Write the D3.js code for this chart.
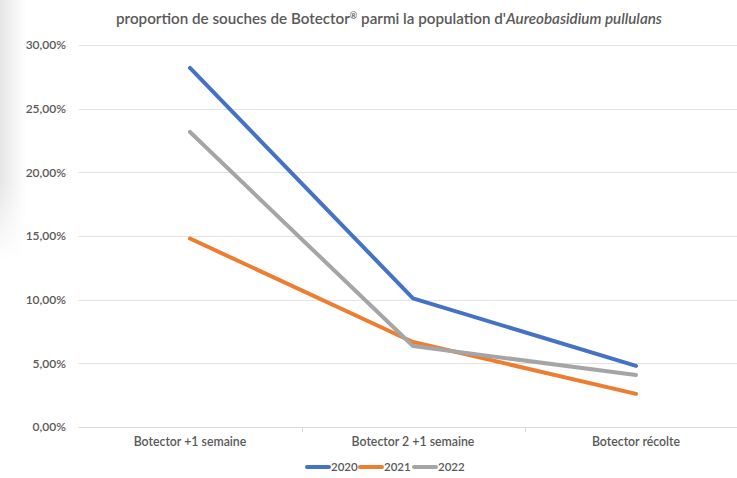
<!DOCTYPE html>
<html><head><meta charset="utf-8">
<script src="https://cdn.jsdelivr.net/npm/d3@7"></script>
<style>body{margin:0;background:#fff;}svg{display:block;font-family:Lato,"Open Sans",sans-serif;}</style>
</head><body><svg id="c" width="737" height="478"></svg>
<script>
const categories = ["Botector +1 semaine", "Botector 2 +1 semaine", "Botector récolte"];
const years = ["2020", "2021", "2022"];
const s2020 = [0.282, 0.101, 0.048];
const s2021 = [0.148, 0.0668, 0.026];
const s2022 = [0.2317, 0.0636, 0.0408];
const yTicks = [0, 0.05, 0.10, 0.15, 0.20, 0.25, 0.30];
const colors = ["#4472C4", "#ED7D31", "#A5A5A5"];
const series = [s2020, s2021, s2022];

(function(){
const svg = d3.select("#c");
const defs = svg.append("defs");
const g1 = defs.append("linearGradient").attr("id","sh").attr("x1","0").attr("x2","1");
g1.append("stop").attr("offset","0").attr("stop-color","#e6e6e6");
g1.append("stop").attr("offset","1").attr("stop-color","#ffffff");
const g2 = defs.append("linearGradient").attr("id","shv").attr("x1","0").attr("x2","0").attr("y1","0").attr("y2","1");
g2.append("stop").attr("offset","0.7").attr("stop-color","#fff").attr("stop-opacity",0);
g2.append("stop").attr("offset","1").attr("stop-color","#fff").attr("stop-opacity",1);
svg.append("rect").attr("x",0).attr("y",0).attr("width",26).attr("height",260).attr("fill","url(#sh)");
svg.append("rect").attr("x",0).attr("y",0).attr("width",26).attr("height",260).attr("fill","url(#shv)");

const mL = 78.5, mR = 747.5, mT = 45, mB = 427;
const x = d3.scaleBand().domain(categories).range([mL, mR]);
const y = d3.scaleLinear().domain([0, 0.30]).range([mB, mT]);
const fmt = v => d3.format(".2f")(v*100).replace(".", ",") + "%";

svg.append("g").selectAll("line").data(yTicks).join("line")
  .attr("x1", mL).attr("x2", 737)
  .attr("y1", d => Math.round(y(d)) + 0.5).attr("y2", d => Math.round(y(d)) + 0.5)
  .attr("stroke", d => d === 0 ? "#d9d9d9" : "#e3e3e3").attr("stroke-width", d => d===0?1.2:1);

svg.append("g").selectAll("line").data(categories.slice(1)).join("line")
  .attr("x1", d => Math.round(x(d))+0.5).attr("x2", d => Math.round(x(d))+0.5)
  .attr("y1", mB).attr("y2", mB+5).attr("stroke","#d9d9d9");

svg.append("g").selectAll("text").data(yTicks).join("text")
  .attr("x", 66).attr("y", d => y(d)).attr("dy","0.35em")
  .attr("text-anchor","end").attr("font-size",12).attr("font-weight",600)
  .attr("fill","#595959").text(fmt);

svg.append("g").selectAll("text").data(categories).join("text")
  .attr("x", d => x(d) + x.bandwidth()/2).attr("y", 446)
  .attr("text-anchor","middle").attr("font-size",12.3).attr("font-weight",600)
  .attr("fill","#595959").text(d => d);

const line = d3.line().x((d,i) => x(categories[i]) + x.bandwidth()/2).y(d => y(d));
svg.append("g").selectAll("path").data(series).join("path")
  .attr("d", line).attr("fill","none")
  .attr("stroke", (d,i) => colors[i]).attr("stroke-width", 4)
  .attr("stroke-linecap","round").attr("stroke-linejoin","round");

const t = svg.append("text").attr("x", 389).attr("y", 24).attr("text-anchor","middle")
  .attr("font-size",15.2).attr("font-weight",600).attr("fill","#595959");
t.append("tspan").text("proportion de souches de Botector");
t.append("tspan").attr("font-size",9).attr("dy",-5).text("®");
t.append("tspan").attr("dy",5).text(" parmi la population d'");
t.append("tspan").attr("font-style","italic").text("Aureobasidium pullulans");

const lg = svg.append("g");
const lx = [307, 360, 414];
years.forEach((yr, i) => {
  lg.append("line").attr("x1", lx[i]).attr("x2", lx[i]+22).attr("y1", 467).attr("y2", 467)
    .attr("stroke", colors[i]).attr("stroke-width", 4).attr("stroke-linecap","round");
  lg.append("text").attr("x", lx[i]+24).attr("y", 467).attr("dy","0.35em")
    .attr("font-size",11.5).attr("font-weight",600).attr("fill","#595959").text(yr);
});
})();
</script></body></html>
